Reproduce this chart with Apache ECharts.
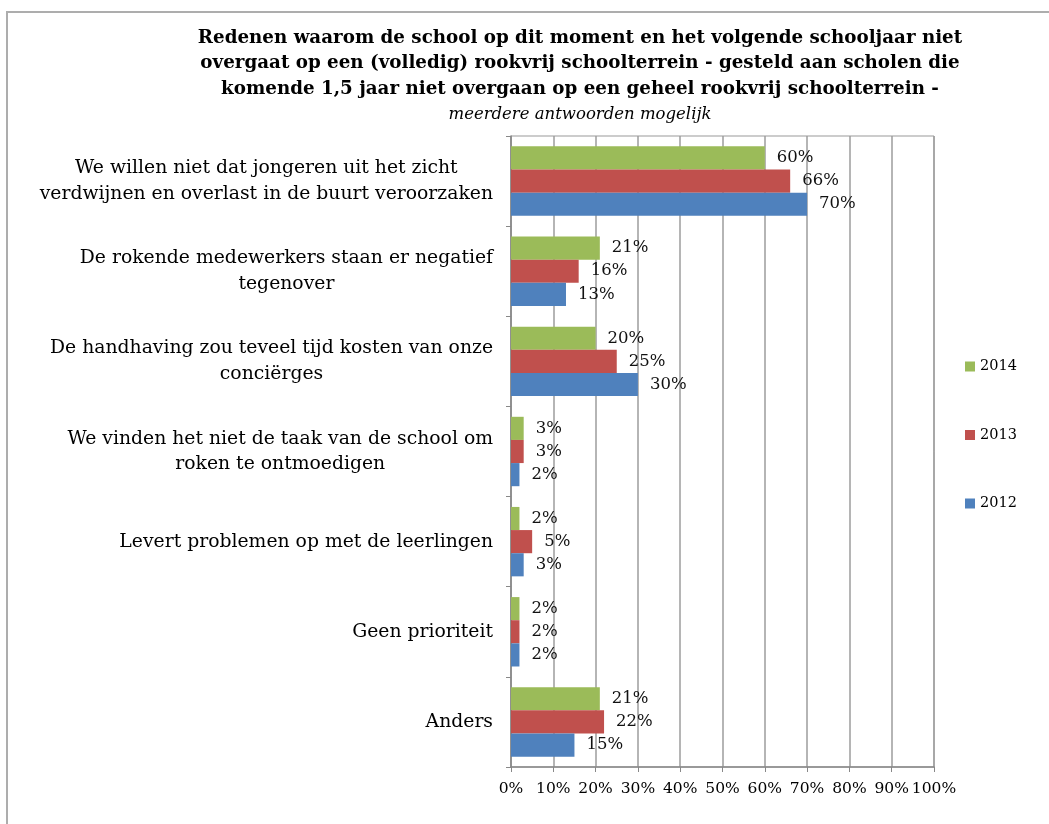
<!DOCTYPE html>
<html>
<head>
<meta charset="utf-8">
<script src="https://cdn.jsdelivr.net/npm/echarts@6/dist/echarts.min.js"></script>
<style>
  html, body { margin: 0; padding: 0; background: #fff; }
  #chart { width: 1049px; height: 824px; }
</style>
</head>
<body>
<div id="chart"></div>
<script>
// categorieen (van boven naar beneden)
var categories = [
  'We willen niet dat jongeren uit het zicht\nverdwijnen en overlast in de buurt veroorzaken',
  'De rokende medewerkers staan er negatief\ntegenover',
  'De handhaving zou teveel tijd kosten van onze\nconciërges',
  'We vinden het niet de taak van de school om\nroken te ontmoedigen',
  'Levert problemen op met de leerlingen',
  'Geen prioriteit',
  'Anders'
];
var years = ['2014', '2013', '2012'];
var values2014 = [60, 21, 20, 3, 2, 2, 21];
var values2013 = [66, 16, 25, 3, 5, 2, 22];
var values2012 = [70, 13, 30, 2, 3, 2, 15];
var colors = { '2014': '#9bbb59', '2013': '#c0504d', '2012': '#4f81bd' };

var FONT = 'DejaVu Serif';
var myChart = echarts.init(document.getElementById('chart'));

function barSeries(name, data) {
  return {
    name: name,
    type: 'bar',
    data: data,
    barGap: '0%',
    barCategoryGap: '23%',
    itemStyle: { color: colors[name] },
    label: {
      show: true,
      position: 'right',
      distance: 12,
      formatter: '{c}%',
      color: '#111',
      fontFamily: FONT,
      fontSize: 16.5
    }
  };
}

myChart.setOption({
  animation: false,
  backgroundColor: '#fff',
  graphic: [{
    type: 'rect',
    shape: { x: 7, y: 12, width: 1100, height: 900 },
    style: { fill: 'none', stroke: '#adadad', lineWidth: 2 },
    silent: true
  }],
  title: {
    text: 'Redenen waarom de school op dit moment en het volgende schooljaar niet\n' +
          'overgaat op een (volledig) rookvrij schoolterrein - gesteld aan scholen die\n' +
          'komende 1,5 jaar niet overgaan op een geheel rookvrij schoolterrein -\n' +
          '{i|meerdere antwoorden mogelijk}',
    left: 580,
    top: 25,
    padding: 0,
    textAlign: 'center',
    textStyle: {
      fontFamily: FONT,
      fontSize: 18.3,
      fontWeight: 'bold',
      color: '#000',
      lineHeight: 25.6,
      rich: {
        i: { fontFamily: FONT, fontSize: 16.5, fontStyle: 'italic', fontWeight: 'normal', color: '#000', lineHeight: 25.6 }
      }
    }
  },
  legend: {
    data: years,
    orient: 'vertical',
    left: 960,
    top: 354,
    itemWidth: 10,
    itemHeight: 10,
    itemGap: 53.5,
    icon: 'rect',
    textStyle: { fontFamily: FONT, fontSize: 14.5, color: '#000' }
  },
  grid: {
    left: 511, top: 136, right: 115, bottom: 57,
    show: true, borderColor: '#999', borderWidth: 1
  },
  xAxis: {
    type: 'value',
    min: 0,
    max: 100,
    interval: 10,
    axisLine: { show: true, lineStyle: { color: '#888', width: 1.5 } },
    axisTick: { show: true, length: 5, lineStyle: { color: '#888' } },
    axisLabel: { formatter: '{value}%', fontFamily: FONT, fontSize: 15.5, color: '#000', margin: 14 },
    splitLine: { show: true, lineStyle: { color: '#9d9d9d', width: 1.5 } }
  },
  yAxis: {
    type: 'category',
    inverse: true,
    data: categories,
    axisLine: { show: true, lineStyle: { color: '#888', width: 1.5 } },
    axisTick: { show: true, length: 5, lineStyle: { color: '#888' } },
    axisLabel: {
      margin: 18,
      align: 'right',
      color: '#000',
      fontFamily: FONT,
      fontSize: 18.8,
      lineHeight: 25.5,
      formatter: function (v) {
        return v.split('\n').map(function (l) { return '{c|' + l + '}'; }).join('\n');
      },
      rich: { c: { align: 'center', fontFamily: FONT, fontSize: 18.8, lineHeight: 25.5, color: '#000' } }
    }
  },
  // met inverse categorie-as komt de eerste serie bovenaan in elke groep
  series: [
    barSeries('2014', values2014),
    barSeries('2013', values2013),
    barSeries('2012', values2012)
  ]
});
</script>
</body>
</html>
